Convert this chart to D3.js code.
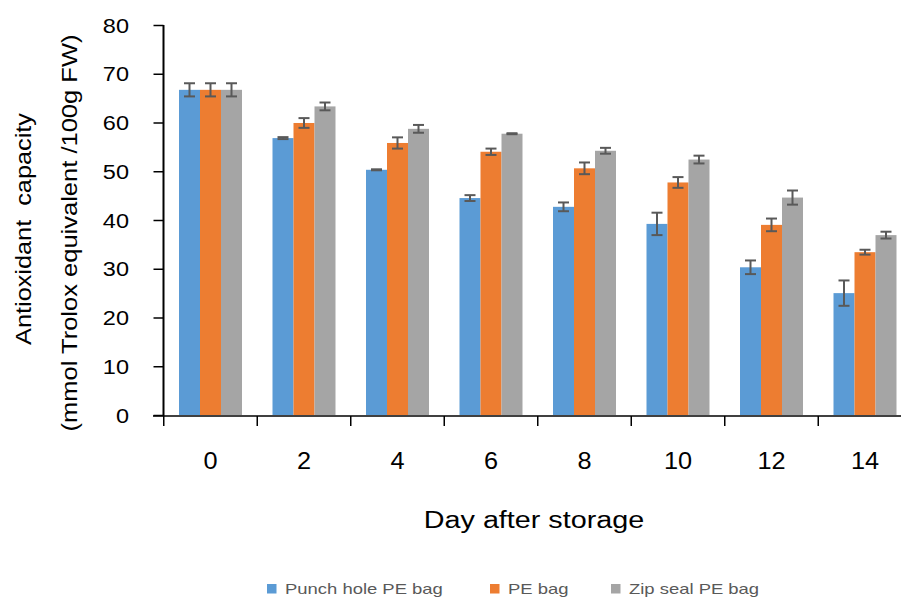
<!DOCTYPE html>
<html>
<head>
<meta charset="utf-8">
<script src="https://cdn.jsdelivr.net/npm/d3@7"></script>
<style>
  html, body { margin: 0; padding: 0; background: #fff; }
  svg { display: block; }
  text { font-family: "Liberation Sans", Arial, sans-serif; white-space: pre; }
</style>
</head>
<body>
<svg id="chart" width="901" height="599"></svg>
<script>
// Antioxidant capacity by storage day and packaging type
const days = ["0", "2", "4", "6", "8", "10", "12", "14"];
const seriesNames = ["Punch hole PE bag", "PE bag", "Zip seal PE bag"];
const seriesColors = ["#5B9BD5", "#ED7D31", "#A5A5A5"];

const punchHole    = [66.7, 56.8, 50.3, 44.5, 42.7, 39.2, 30.3, 25.0];
const punchHoleErr = [1.35, 0.2, 0.1, 0.6, 0.9, 2.3, 1.4, 2.6];
const peBag        = [66.7, 59.9, 55.8, 54.0, 50.6, 47.7, 39.0, 33.4];
const peBagErr     = [1.35, 1.0, 1.15, 0.65, 1.2, 1.1, 1.3, 0.5];
const zipSeal      = [66.7, 63.3, 58.7, 57.7, 54.2, 52.4, 44.6, 36.9];
const zipSealErr   = [1.35, 0.8, 0.8, 0.1, 0.6, 0.8, 1.45, 0.7];

const yTicks = [0, 10, 20, 30, 40, 50, 60, 70, 80];

const values = [punchHole, peBag, zipSeal];
const errors = [punchHoleErr, peBagErr, zipSealErr];

const svg = d3.select("#chart");

const x = d3.scaleBand().domain(days).range([163.75, 911.75]).padding(0);
const xs = d3.scaleBand().domain(seriesNames).range([15.25, 78.25]).padding(0);
const y = d3.scaleLinear().domain([0, 80]).range([415, 25]);

// Helper: text stretched horizontally along its own direction
function stretchedText(parent, tx, ty, rot, sx, str, size, anchor, fill) {
  const g = parent.append("g")
    .attr("transform", `translate(${tx},${ty}) rotate(${rot}) scale(${sx},1)`);
  g.append("text")
    .attr("text-anchor", anchor)
    .attr("font-size", size)
    .attr("fill", fill || "#000")
    .text(str);
  return g;
}

// Bars
const groups = svg.append("g").selectAll("g")
  .data(days)
  .join("g")
  .attr("transform", d => `translate(${x(d)},0)`);

seriesNames.forEach((name, si) => {
  groups.append("rect")
    .attr("x", xs(name))
    .attr("width", xs.bandwidth())
    .attr("y", (d, i) => y(values[si][i]))
    .attr("height", (d, i) => y(0) - y(values[si][i]))
    .attr("fill", seriesColors[si]);
});

// Error bars
seriesNames.forEach((name, si) => {
  const cx = xs(name) + xs.bandwidth() / 2;
  const eb = groups.append("g").attr("stroke", "#595959").attr("stroke-width", 2);
  eb.append("line")
    .attr("x1", cx).attr("x2", cx)
    .attr("y1", (d, i) => y(values[si][i] + errors[si][i]))
    .attr("y2", (d, i) => y(values[si][i] - errors[si][i]));
  [1, -1].forEach(sign => {
    eb.append("line")
      .attr("x1", cx - 5.5).attr("x2", cx + 5.5)
      .attr("y1", (d, i) => y(values[si][i] + sign * errors[si][i]))
      .attr("y2", (d, i) => y(values[si][i] + sign * errors[si][i]));
  });
});

// Y axis
const yAxis = svg.append("g")
  .attr("transform", "translate(163.5,0)")
  .call(d3.axisLeft(y).tickValues(yTicks).tickSize(10).tickFormat(""));
yAxis.select(".domain").attr("stroke", "#000").attr("stroke-width", 2)
  .attr("d", `M0,${y(80)}V${y(0) + 1}`);
yAxis.selectAll(".tick line").attr("stroke", "#000").attr("stroke-width", 1.5);

yTicks.forEach(t => {
  stretchedText(svg, 129, y(t) + 7.5, 0, 1.12, String(t), 21, "end");
});

// X axis
const xAxis = svg.append("g")
  .attr("transform", `translate(0,${y(0) + 1})`);
xAxis.append("line")
  .attr("x1", 153).attr("x2", 901)
  .attr("stroke", "#000").attr("stroke-width", 1.5);
xAxis.selectAll(".cat-tick")
  .data(days)
  .join("line")
  .attr("class", "cat-tick")
  .attr("x1", d => x(d)).attr("x2", d => x(d))
  .attr("y1", 0).attr("y2", 10)
  .attr("stroke", "#000").attr("stroke-width", 1.5);

days.forEach(d => {
  stretchedText(svg, x(d) + x.bandwidth() / 2, 469, 0, 1.1, d, 23, "middle");
});

// Axis titles
stretchedText(svg, 534, 528, 0, 1.25, "Day after storage", 23, "middle");
stretchedText(svg, 31, 229, -90, 1.15, "Antioxidant  capacity", 22, "middle");
stretchedText(svg, 77, 233, -90, 1.16, "(mmol Trolox equivalent /100g FW)", 22, "middle");

// Legend
const legendX = [267, 490, 611];
seriesNames.forEach((name, si) => {
  svg.append("rect")
    .attr("x", legendX[si]).attr("y", 584)
    .attr("width", 9.5).attr("height", 9.5)
    .attr("fill", seriesColors[si]);
  stretchedText(svg, legendX[si] + 18, 594, 0, 1.23, name, 15, "start", "#595959");
});
</script>
</body>
</html>
